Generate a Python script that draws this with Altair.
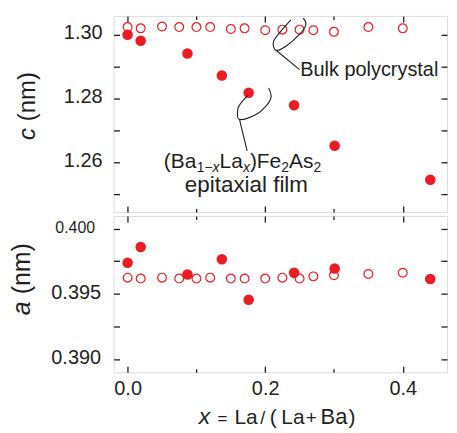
import altair as alt
import pandas as pd

RED = "#ec1c24"
INK = "#231f20"
FONT = "Liberation Sans"

# ---- data ----
film_x = [0.0, 0.019, 0.087, 0.137, 0.176, 0.242, 0.301, 0.440]
film_c = [1.3000, 1.2981, 1.2941, 1.2872, 1.2818, 1.2779, 1.2652, 1.2545]
film_a = [0.39738, 0.39859, 0.39649, 0.39765, 0.39455, 0.39662, 0.39695, 0.39614]

bulk_x = [0.0, 0.019, 0.05, 0.075, 0.10, 0.12, 0.15, 0.17, 0.20, 0.225, 0.25, 0.27, 0.30, 0.35, 0.40]
bulk_c = [1.3024, 1.3020, 1.3026, 1.3024, 1.3024, 1.3024, 1.3018, 1.3020, 1.3014, 1.3016,
          1.3016, 1.3014, 1.3009, 1.3024, 1.3020]
bulk_a = [0.39624, 0.39617, 0.39624, 0.39617, 0.39617, 0.39624, 0.39617, 0.39617, 0.39617, 0.39624,
          0.39617, 0.39634, 0.39642, 0.39652, 0.39662]

# leader-line annotations (data units of the upper panel)
bulk_loop_x = [0.2374, 0.2205, 0.2118, 0.2157, 0.2302, 0.2494, 0.2591, 0.2552]
bulk_loop_c = [1.30469, 1.30053, 1.29762, 1.29512, 1.29637, 1.30000, 1.30313, 1.30522]
bulk_lead_x = [0.2157, 0.2500]
bulk_lead_c = [1.29512, 1.28906]
film_loop_x = [0.1746, 0.1650, 0.1601, 0.1626, 0.1867, 0.2012, 0.2085, 0.2050]
film_loop_c = [1.28094, 1.27866, 1.27656, 1.27344, 1.27500, 1.27762, 1.28044, 1.28334]
film_lead_x = [0.1626, 0.1737]
film_lead_c = [1.27344, 1.26356]

x_major = [0.0, 0.2, 0.4]
x_ticks = [0.0, 0.1, 0.2, 0.3, 0.4]
c_labels = [1.26, 1.28, 1.30]
c_ticks = [1.25, 1.26, 1.27, 1.28, 1.29, 1.30]
a_labels = [0.390, 0.395, 0.400]
a_ticks = [0.390, 0.3925, 0.395, 0.3975, 0.400]

W, H1, H2 = 335, 197, 157
xs = alt.Scale(domain=[-0.0205, 0.4643], nice=False, zero=False)
cs = alt.Scale(domain=[1.2444, 1.3059], nice=False, zero=False)
ascale = alt.Scale(domain=[0.38898, 0.40097], nice=False, zero=False)

X_TICK_SIZE = {"condition": {"test": "round(datum.value * 10) % 2 == 0", "value": 6}, "value": 3.5}


def tick_axis(orient, offset, values, size):
    return alt.Axis(orient=orient, offset=offset, values=values, labels=False, domain=False,
                    grid=False, ticks=True, tickSize=size, tickColor=INK, tickWidth=1.3, title=None)


def x_label_axis(show):
    if not show:
        return None
    return alt.Axis(orient="bottom", values=x_major, format=".1f", ticks=False, tickSize=0,
                    domain=False, grid=False, labels=True, labelFontSize=20, labelPadding=6,
                    labelFont=FONT, labelColor=INK, title=None)


def txt(s, x, y, size, italic=False, angle=0, align="left", baseline="alphabetic"):
    kw = dict(text=s, font=FONT, fontSize=size, color=INK, align=align, baseline=baseline)
    if italic:
        kw["fontStyle"] = "italic"
    if angle:
        kw["angle"] = angle
    return alt.Chart(pd.DataFrame({"t": [s]})).mark_text(**kw).encode(
        x=alt.value(x), y=alt.value(y))


def panel(bx, bv, fx, fv, yscale, H, yticks, ylab_axis, show_xlabels, extra):
    dfb = pd.DataFrame({"x": bx, "v": bv})
    dff = pd.DataFrame({"x": fx, "v": fv})
    open_pts = alt.Chart(dfb).mark_point(shape="circle", filled=False, size=78, strokeWidth=1.2,
                                         color=RED, opacity=1).encode(
        x=alt.X("x:Q", scale=xs, axis=x_label_axis(show_xlabels)),
        y=alt.Y("v:Q", scale=yscale, axis=ylab_axis))
    filled = alt.Chart(dff).mark_circle(size=112, color=RED, opacity=1).encode(
        x=alt.X("x:Q", scale=xs, axis=tick_axis("top", -H, x_ticks, X_TICK_SIZE)),
        y=alt.Y("v:Q", scale=yscale, axis=tick_axis("right", -W, yticks, 6)))
    ghost = alt.Chart(dff).mark_circle(opacity=0, clip=True).encode(
        x=alt.X("x:Q", scale=xs, axis=tick_axis("bottom", -H, x_ticks, X_TICK_SIZE)),
        y=alt.Y("v:Q", scale=yscale, axis=tick_axis("left", -W, yticks, 6)))
    return alt.layer(open_pts, filled, ghost, *extra).resolve_axis(
        x="independent", y="independent").properties(width=W, height=H)


# leader lines
rows = []
for g, (xx, yy) in enumerate([(bulk_loop_x, bulk_loop_c), (bulk_lead_x, bulk_lead_c),
                              (film_loop_x, film_loop_c), (film_lead_x, film_lead_c)]):
    for i, (a, b) in enumerate(zip(xx, yy)):
        rows.append({"x": a, "v": b, "g": g, "i": i})
leaders = alt.Chart(pd.DataFrame(rows)).mark_line(interpolate="cardinal", color=INK,
                                                  strokeWidth=1.1, clip=True).encode(
    x=alt.X("x:Q", scale=xs, axis=None),
    y=alt.Y("v:Q", scale=cs, axis=None),
    detail="g:N", order="i:Q")

MAIN, SUB, YB, YS = 21, 14, 152.7, 156.5
top_extra = [
    leaders,
    txt("Bulk polycrystal", 187.5, 60.7, 20),
    txt("(Ba", 50.5, YB, MAIN),
    txt("1\u2212", 83.5, YS, SUB),
    txt("x", 99.5, YS, SUB, italic=True),
    txt("La", 106.5, YB, MAIN),
    txt("x", 130, YS, SUB, italic=True),
    txt(")Fe", 137, YB, MAIN),
    txt("2", 168.5, YS, SUB),
    txt("As", 176.3, YB, MAIN),
    txt("2", 200.8, YS, SUB),
    txt("epitaxial film", 133.5, 176.7, 22.5, align="center"),
    txt("c", -78.5, 124.7, 24, italic=True, angle=270),
    txt("(nm)", -78.5, 105.7, 24, angle=270),
]

XB = 209.2
bottom_extra = [
    txt("a", -83.5, 99.7, 25, italic=True, angle=270),
    txt("(nm)", -83.5, 78.7, 25, angle=270),
    txt("x", 85.5, XB, 23, italic=True),
    txt("=", 104.5, XB, 17),
    txt("La", 121.5, XB, 21),
    txt("/", 147.5, XB, 18),
    txt("(", 157, XB, 21),
    txt("La", 168.5, XB, 21),
    txt("+", 193, XB, 19),
    txt("Ba", 208, XB, 22),
    txt(")", 236, XB, 21),
]

c_axis = alt.Axis(orient="left", values=c_labels, format=".2f", ticks=False, tickSize=0,
                  domain=False, grid=False, labelFontSize=20, labelPadding=11.5, labelOffset=-2,
                  labelFont=FONT, labelColor=INK, title=None)
a_axis = alt.Axis(orient="left", values=a_labels, format=".3f", ticks=False, tickSize=0,
                  domain=False, grid=False, labelOffset=-1,
                  labelFontSize={"condition": {"test": "datum.value > 0.3999", "value": 16}, "value": 20},
                  labelPadding={"condition": {"test": "datum.value > 0.3999", "value": 19}, "value": 13},
                  labelFont=FONT, labelColor=INK, title=None)

top = panel(bulk_x, bulk_c, film_x, film_c, cs, H1, c_ticks, c_axis, False, top_extra)
bottom = panel(bulk_x, bulk_a, film_x, film_a, ascale, H2, a_ticks, a_axis, True, bottom_extra)

chart = alt.vconcat(top, bottom, spacing=0).properties(
    padding={"left": 2, "top": 5, "right": 0, "bottom": 0}
).configure_view(stroke=INK, strokeWidth=1.4).configure(background="white")

chart.save("out.html", embed_options={"renderer": "svg", "actions": False})
